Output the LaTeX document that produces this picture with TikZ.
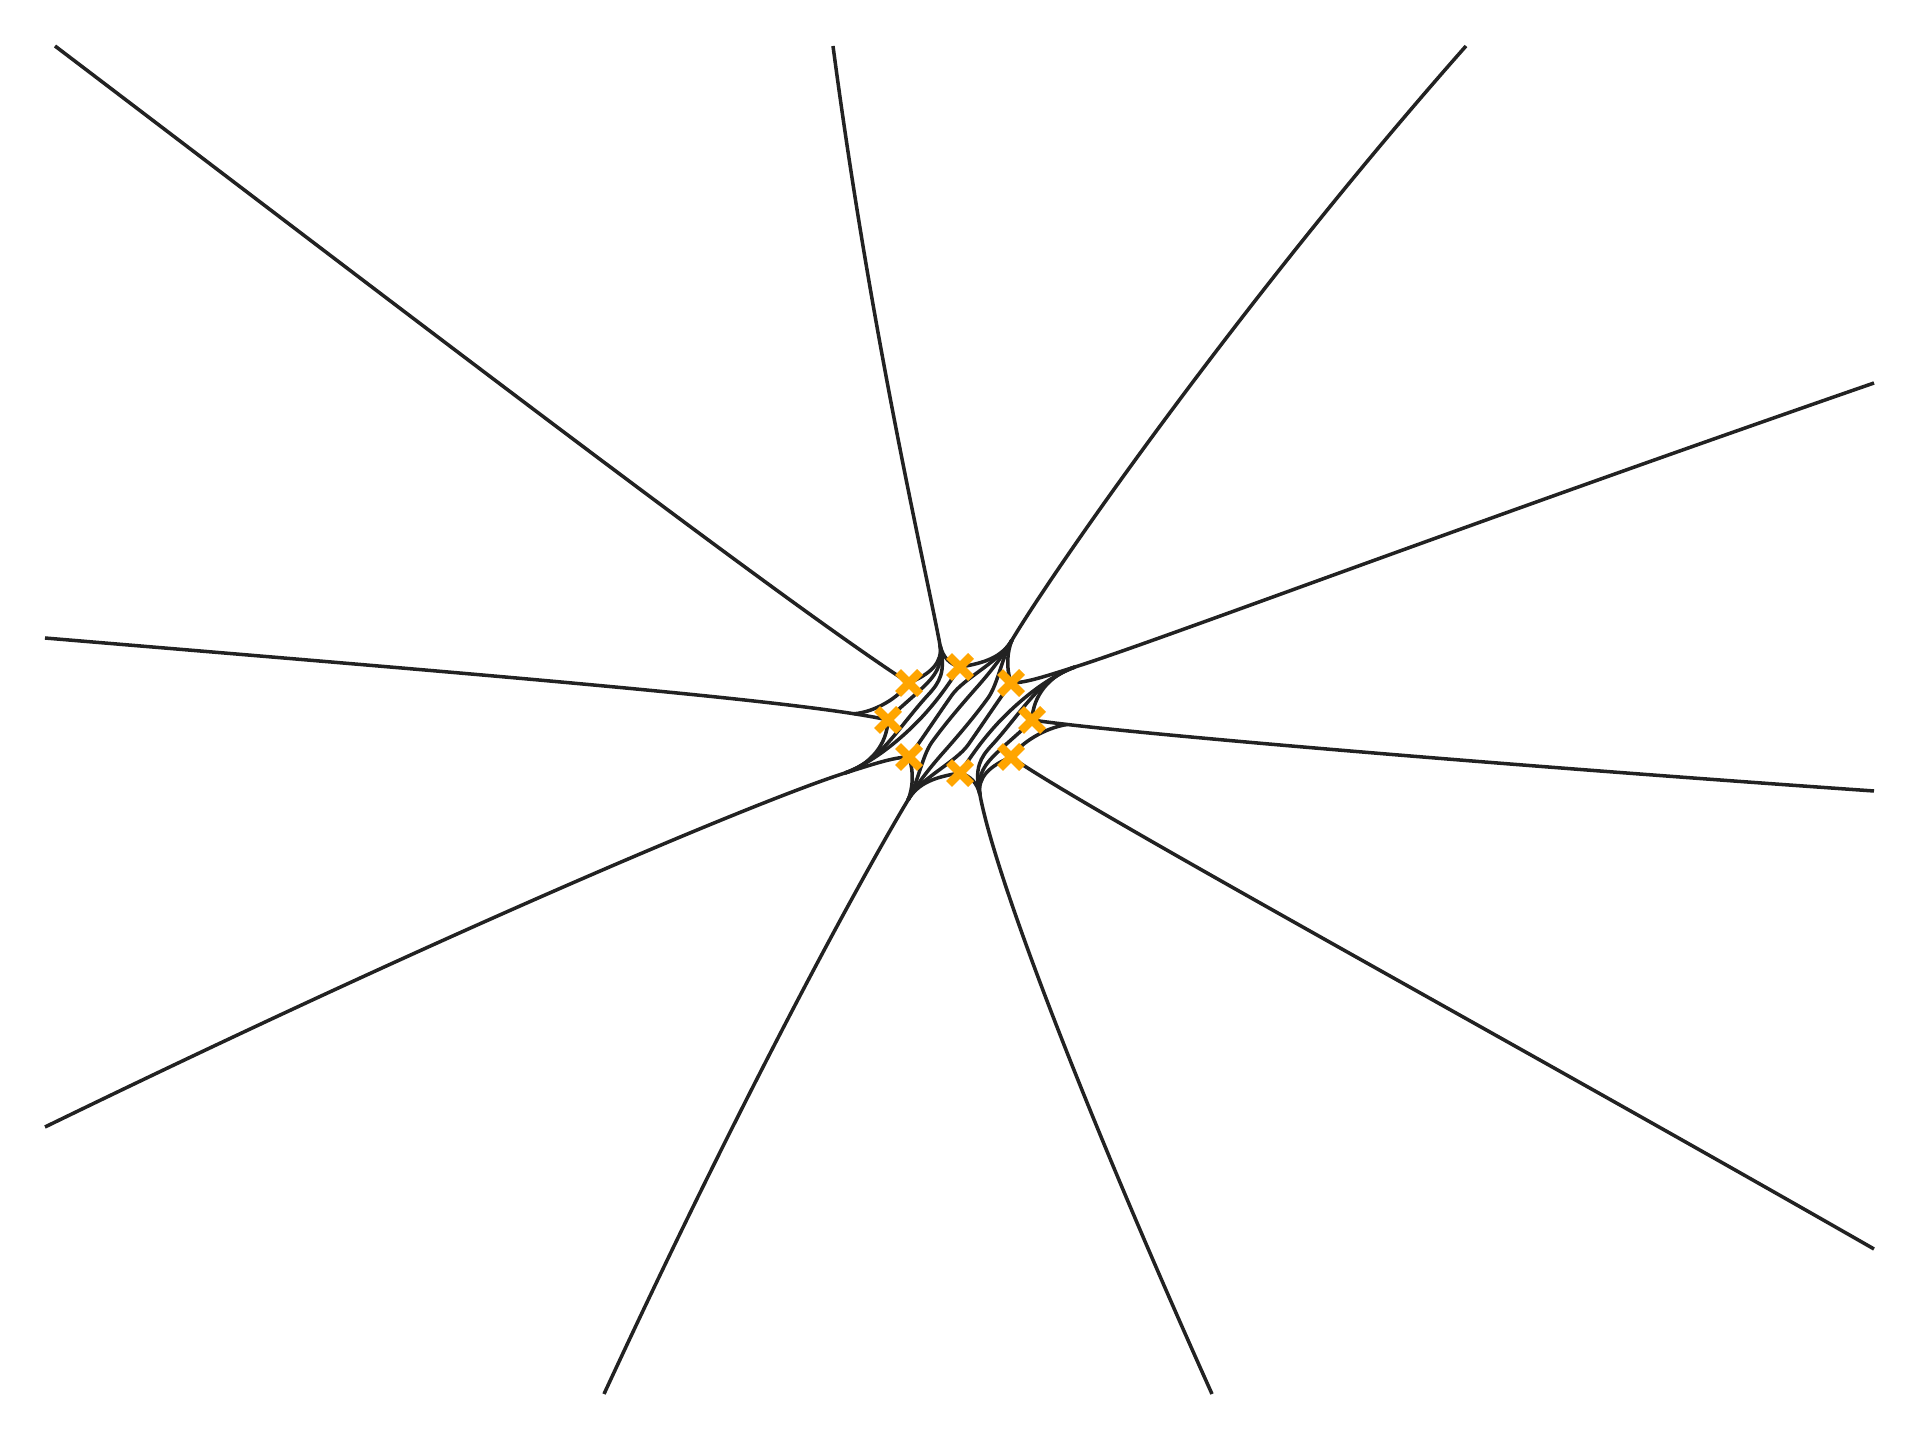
\documentclass[tikz,border=0pt]{standalone}
\definecolor{lncol}{RGB}{34,34,34}
\definecolor{mkcol}{RGB}{255,165,0}
\newcommand\cstrands{%
 \draw[ln] (940,645) .. controls (943,663) and (930,674) .. (909,683);
 \draw[ln] (940,645) .. controls (944,668) and (932,679) .. (918,692) .. controls (906,703) and (896,711) .. (888,720);
 \draw[ln] (940,645) .. controls (946,672) and (940,682) .. (928,695) .. controls (916,708) and (904,724) .. (893,737) .. controls (882,750) and (868,765) .. (845,773);
 \draw[ln] (940,645) .. controls (943,658) and (950,664) .. (960,667);
 \draw[ln] (1012,640) .. controls (1002,657) and (985,663) .. (960,667);
 \draw[ln] (909,757) .. controls (920,742) and (940,712) .. (952,695) .. controls (964,678) and (1002,660) .. (1012,640);
 \draw[ln] (1012,640) .. controls (1007,652) and (1006,668) .. (1011,683);
 \draw[ln] (1012,640) .. controls (1002,657) and (992,670) .. (978,686) .. controls (962,704) and (945,724) .. (932,742) .. controls (922,756) and (918,783) .. (908,800);
 \draw[ln] (960,667) .. controls (950,682) and (942,694) .. (930,708) .. controls (915,726) and (880,760) .. (845,773);
 \draw[ln] (888,720) .. controls (887,745) and (870,765) .. (845,773);
 \draw[ln] (909,757) .. controls (893,757) and (868,766) .. (845,773);
}
\begin{document}
\begin{tikzpicture}[x=0.01cm,y=-0.01cm,
  ln/.style={draw=lncol,line width=1pt},
  xmk/.style={draw=mkcol,line width=2.4pt}]
\useasboundingbox[fill=white] (0,0) rectangle (1920,1440);
% turning points
\coordinate (X1) at (909,683);
\coordinate (X2) at (960,667);
\coordinate (X3) at (1011,683);
\coordinate (X4) at (888,720);
\coordinate (X5) at (1032,720);
\coordinate (X6) at (909,757);
\coordinate (X7) at (960,773);
\coordinate (X8) at (1011,757);
% bundle hubs
\coordinate (H2) at (940,645);
\coordinate (H3) at (1012,640);
\coordinate (H4) at (1075,667);
\coordinate (H7) at (980,795);
\coordinate (H8) at (908,800);
\coordinate (H9) at (845,773);
\coordinate (M10) at (853.9,713.8);
\coordinate (M5) at (1066.9,724.5);
% outer rays
\draw[ln] (55,46) .. controls (350,270) and (780,600) .. (X1);
\draw[ln] (833,46) .. controls (872,340) and (925,565) .. (H2);
\draw[ln] (1466,46) .. controls (1250,290) and (1060,560) .. (H3);
\draw[ln] (1874,383) .. controls (1450,530) and (1160,640) .. (H4);
\draw[ln] (1874,791) .. controls (1500,765) and (1120,733) .. (X5);
\draw[ln] (1874,1249) .. controls (1500,1035) and (1090,812) .. (X8);
\draw[ln] (1212,1394) .. controls (1080,1100) and (995,875) .. (H7);
\draw[ln] (604,1394) .. controls (740,1100) and (860,880) .. (H8);
\draw[ln] (45,1127) .. controls (450,930) and (760,800) .. (H9);
\draw[ln] (45,638) .. controls (450,672) and (800,700) .. (X4);
% strands leaving X1 and X8 that join the left and right rays
\draw[ln] (X1) .. controls (898,698) and (875,712) .. (M10);
\draw[ln] (X8) .. controls (1022,742) and (1045,728) .. (M5);
% inner strands (symmetric under half turn)
\cstrands
\begin{scope}[rotate around={180:(960,720)}]
\cstrands
\end{scope}
% markers
\foreach \p in {X1,X2,X3,X4,X5,X6,X7,X8}
  \draw[xmk] (\p) +(-11,-11) -- +(11,11) +(-11,11) -- +(11,-11);
\end{tikzpicture}
\end{document}
